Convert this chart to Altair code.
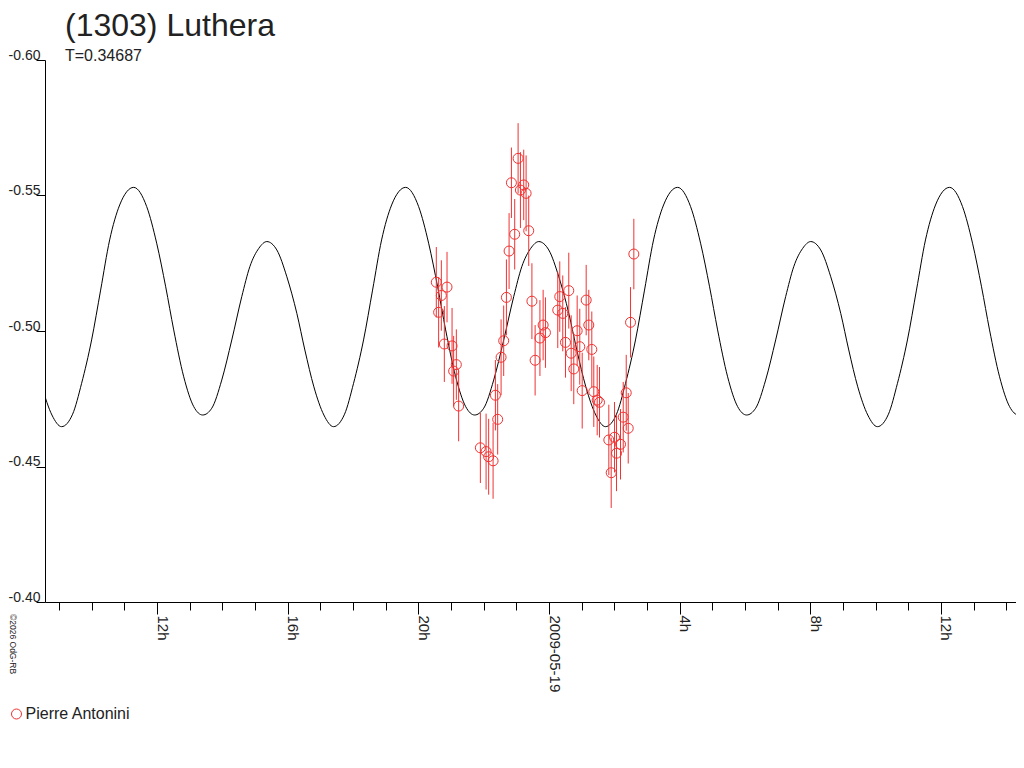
import altair as alt
import pandas as pd

RED = "#f03232"
INK = "#222222"
FONT = "Liberation Sans"

# fitted light curve, hours since 2009-05-18 0h UT
curve_hours = [
    8.477, 8.783,
    9.079, 9.416, 9.692, 9.998, 10.274, 10.550, 10.857, 11.286, 11.684, 11.990,
    12.266, 12.511, 12.818, 13.124, 13.400, 13.676, 13.982, 14.289, 14.595, 14.841,
    15.116, 15.362, 15.668, 15.975, 16.281, 16.526, 16.802, 17.108,
    17.404, 17.741, 18.017, 18.323, 18.599, 18.875, 19.182, 19.611, 20.009, 20.315,
    20.591, 20.836, 21.143, 21.449, 21.725, 22.001, 22.307, 22.614, 22.920, 23.166,
    23.441, 23.687, 23.993, 24.300, 24.606, 24.851, 25.127, 25.433,
    25.729, 26.066, 26.342, 26.648, 26.924, 27.200, 27.507, 27.936, 28.334, 28.640,
    28.916, 29.161, 29.468, 29.774, 30.050, 30.326, 30.632, 30.939, 31.245, 31.491,
    31.766, 32.012, 32.318, 32.625, 32.931, 33.176, 33.452, 33.758,
    34.054, 34.391, 34.667, 34.973, 35.249, 35.525, 35.832, 36.261, 36.659, 36.965,
    37.241, 37.486, 37.793, 38.099, 38.375, 38.651,
]
curve_mag = [
    -0.4794, -0.4690,
    -0.4647, -0.4693, -0.4807, -0.4967, -0.5151, -0.5336, -0.5465, -0.5530, -0.5459, -0.5324,
    -0.5163, -0.5004, -0.4831, -0.4721, -0.4690, -0.4715, -0.4819, -0.4967, -0.5127, -0.5237,
    -0.5305, -0.5330, -0.5299, -0.5200, -0.5065, -0.4930, -0.4794, -0.4690,
    -0.4647, -0.4693, -0.4807, -0.4967, -0.5151, -0.5336, -0.5465, -0.5530, -0.5459, -0.5324,
    -0.5163, -0.5004, -0.4831, -0.4721, -0.4690, -0.4715, -0.4819, -0.4967, -0.5127, -0.5237,
    -0.5305, -0.5330, -0.5299, -0.5200, -0.5065, -0.4930, -0.4794, -0.4690,
    -0.4647, -0.4693, -0.4807, -0.4967, -0.5151, -0.5336, -0.5465, -0.5530, -0.5459, -0.5324,
    -0.5163, -0.5004, -0.4831, -0.4721, -0.4690, -0.4715, -0.4819, -0.4967, -0.5127, -0.5237,
    -0.5305, -0.5330, -0.5299, -0.5200, -0.5065, -0.4930, -0.4794, -0.4690,
    -0.4647, -0.4693, -0.4807, -0.4967, -0.5151, -0.5336, -0.5465, -0.5530, -0.5459, -0.5324,
    -0.5163, -0.5004, -0.4831, -0.4721, -0.4690, -0.4715,
]

# measurements (Pierre Antonini)
obs_hours = [
    20.550, 20.621, 20.704, 20.796, 20.878, 21.032, 21.081, 21.163, 21.234, 21.899,
    22.074, 22.153, 22.288, 22.359, 22.429, 22.533, 22.613, 22.696, 22.778, 22.849,
    22.950, 23.054, 23.125, 23.226, 23.299, 23.379, 23.477, 23.575, 23.722, 23.820,
    23.891, 24.268, 24.329, 24.421, 24.504, 24.605, 24.679, 24.758, 24.862, 24.942,
    25.016, 25.138, 25.218, 25.310, 25.371, 25.475, 25.546, 25.831, 25.904, 26.006,
    26.067, 26.189, 26.272, 26.364, 26.425, 26.496, 26.597,
]
obs_mag = [
    -0.5180, -0.5069, -0.5131, -0.4952, -0.5162, -0.4945, -0.4852, -0.4876, -0.4723, -0.4569,
    -0.4555, -0.4536, -0.4521, -0.4763, -0.4674, -0.4903, -0.4964, -0.5124, -0.5295, -0.5547,
    -0.5357, -0.5637, -0.5520, -0.5539, -0.5508, -0.5370, -0.5110, -0.4892, -0.4974, -0.5022,
    -0.4994, -0.5077, -0.5127, -0.5065, -0.4958, -0.5149, -0.4918, -0.4860, -0.5001, -0.4942,
    -0.4780, -0.5114, -0.5022, -0.4932, -0.4776, -0.4745, -0.4737, -0.4598, -0.4477, -0.4608,
    -0.4549, -0.4582, -0.4682, -0.4772, -0.4641, -0.5032, -0.5284,
]
obs_err = [
    0.013, 0.013, 0.013, 0.014, 0.013, 0.014, 0.013, 0.013, 0.013, 0.013,
    0.014, 0.014, 0.014, 0.013, 0.013, 0.014, 0.013, 0.014, 0.014, 0.013,
    0.013, 0.013, 0.014, 0.013, 0.014, 0.013, 0.014, 0.013, 0.014, 0.013,
    0.013, 0.014, 0.013, 0.014, 0.013, 0.014, 0.014, 0.013, 0.013, 0.014,
    0.014, 0.013, 0.013, 0.014, 0.013, 0.013, 0.013, 0.013, 0.013, 0.013,
    0.014, 0.013, 0.013, 0.014, 0.013, 0.013, 0.013,
]
observer = "Pierre Antonini"

tick_hours = list(range(9, 39))
label_hours = [12, 16, 20, 24, 28, 32, 36]
label_text = ["12h", "16h", "20h", "2009-05-19", "4h", "8h", "12h"]
mag_ticks = [-0.60, -0.55, -0.50, -0.45, -0.40]

curve = pd.DataFrame({"hour": curve_hours, "mag": curve_mag})
obs = pd.DataFrame({"hour": obs_hours, "mag": obs_mag, "err": obs_err})
obs["lo"] = obs["mag"] - obs["err"]
obs["hi"] = obs["mag"] + obs["err"]
obs["observer"] = observer

label_expr = " : ".join(f"datum.value == {h} ? '{t}'"
                        for h, t in zip(label_hours, label_text)) + " : ''"

x_scale = alt.Scale(domain=[8.571, 38.296], nice=False, zero=False)
y_scale = alt.Scale(domain=[-0.60, -0.40], reverse=True, nice=False, zero=False)

# hourly ticks, no labels
minor_axis = alt.Axis(
    values=tick_hours, labels=False, title=None, grid=False, orient="bottom",
    tickSize=8, domainColor="black", tickColor="black",
)
# 4-hourly ticks with the rotated labels
major_axis = alt.Axis(
    values=label_hours, labelExpr=label_expr, title=None, grid=False, orient="bottom",
    tickSize=12, domain=False, tickColor="black",
    labelAngle=90, labelAlign="left", labelBaseline="alphabetic", labelPadding=1,
    labelOverlap=False, labelFlush=False,
    labelFont=FONT, labelFontSize=15, labelColor=INK,
)
y_axis = alt.Axis(
    values=mag_ticks, labelExpr="'-' + format(abs(datum.value), '.2f')",
    title=None, grid=False, tickSize=9,
    labelAlign="right", labelBaseline="alphabetic", labelPadding=-4, labelOffset=-1,
    labelFont=FONT, labelFontSize=14, labelColor=INK,
    domainColor="black", tickColor="black",
)

line = alt.Chart(curve).mark_line(
    color="black", strokeWidth=1, interpolate="monotone", clip=True
).encode(
    x=alt.X("hour:Q", scale=x_scale, axis=minor_axis),
    y=alt.Y("mag:Q", scale=y_scale, axis=y_axis),
)

bars = alt.Chart(obs).mark_rule(color=RED, strokeWidth=1, clip=True).encode(
    x=alt.X("hour:Q", axis=None), y="lo:Q", y2="hi:Q"
)

points = alt.Chart(obs).mark_point(
    shape="circle", filled=False, size=100, strokeWidth=1, opacity=1, clip=True
).encode(
    x=alt.X("hour:Q", axis=major_axis),
    y="mag:Q",
    color=alt.Color(
        "observer:N",
        scale=alt.Scale(domain=[observer], range=[RED]),
        legend=alt.Legend(
            title=None, orient="none", legendX=-36.5, legendY=646, padding=0,
            symbolType="circle", symbolSize=100, symbolStrokeWidth=1,
            labelFont=FONT, labelFontSize=16, labelColor=INK, labelOffset=1,
        ),
    ),
)

copyright = alt.Chart(alt.Data(values=[{}])).mark_text(
    text="©2026 OdG-RB", angle=90, align="left", baseline="alphabetic",
    font=FONT, fontSize=8.5, color=INK,
).encode(x=alt.value(-35), y=alt.value(554))

chart = alt.layer(line, bars, points, copyright).resolve_axis(
    x="independent"
).properties(
    width=971,
    height=542,
    padding={"left": 37, "top": 52, "right": 0, "bottom": 160},
    autosize=alt.AutoSizeParams(type="none"),
    title=alt.TitleParams(
        text="(1303) Luthera", subtitle="T=0.34687",
        anchor="start", frame="group", dx=20, offset=-17,
        font=FONT, fontSize=32, fontWeight="normal", color=INK,
        subtitleFont=FONT, subtitleFontSize=16, subtitleColor=INK, subtitlePadding=5,
    ),
).configure_view(stroke=None)

chart.save("out.html", embed_options={"renderer": "svg", "actions": False})
